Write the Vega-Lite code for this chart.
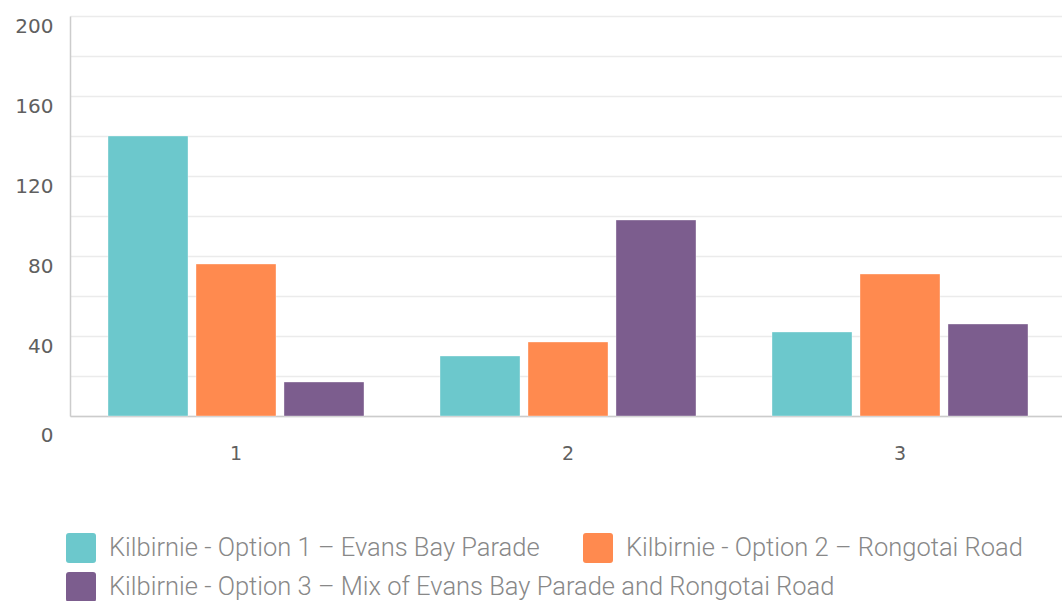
{
  "$schema": "https://vega.github.io/schema/vega-lite/v6.json",
  "width": 992,
  "height": 400,
  "autosize": {"type": "none"},
  "padding": {"left": 70, "top": 16, "right": 0, "bottom": 185},
  "background": "white",
  "data": {
    "values": [
      {"group": "1", "option": "Kilbirnie - Option 1 – Evans Bay Parade", "value": 140},
      {"group": "1", "option": "Kilbirnie - Option 2 – Rongotai Road", "value": 76},
      {"group": "1", "option": "Kilbirnie - Option 3 – Mix of Evans Bay Parade and Rongotai Road", "value": 17},
      {"group": "2", "option": "Kilbirnie - Option 1 – Evans Bay Parade", "value": 30},
      {"group": "2", "option": "Kilbirnie - Option 2 – Rongotai Road", "value": 37},
      {"group": "2", "option": "Kilbirnie - Option 3 – Mix of Evans Bay Parade and Rongotai Road", "value": 98},
      {"group": "3", "option": "Kilbirnie - Option 1 – Evans Bay Parade", "value": 42},
      {"group": "3", "option": "Kilbirnie - Option 2 – Rongotai Road", "value": 71},
      {"group": "3", "option": "Kilbirnie - Option 3 – Mix of Evans Bay Parade and Rongotai Road", "value": 46}
    ]
  },
  "encoding": {
    "x": {
      "field": "group",
      "type": "nominal",
      "scale": {"range": [0, 996], "paddingInner": 0.229, "paddingOuter": 0.1145},
      "axis": {
        "title": null,
        "labelAngle": 0,
        "ticks": false,
        "labelPadding": 28,
        "labelFont": "DejaVu Sans",
        "labelFontSize": 19,
        "labelColor": "#606060",
        "domainColor": "#cccccc",
        "domainWidth": 1.5
      }
    },
    "xOffset": {
      "field": "option",
      "type": "nominal",
      "scale": {
        "domain": [
          "Kilbirnie - Option 1 – Evans Bay Parade",
          "Kilbirnie - Option 2 – Rongotai Road",
          "Kilbirnie - Option 3 – Mix of Evans Bay Parade and Rongotai Road"
        ],
        "paddingInner": 0.0909,
        "paddingOuter": 0
      }
    },
    "y": {
      "field": "value",
      "type": "quantitative",
      "scale": {"domain": [0, 200], "nice": false},
      "axis": {
        "title": null,
        "values": [0, 20, 40, 60, 80, 100, 120, 140, 160, 180, 200],
        "labelExpr": "datum.value % 40 === 0 ? datum.label : ''",
        "ticks": false,
        "labelPadding": 17,
        "labelOffset": {"condition": {"test": "datum.value === 0", "value": 19}, "value": 10},
        "labelFont": "DejaVu Sans",
        "labelFontSize": 20,
        "labelColor": "#606060",
        "domainColor": "#cccccc",
        "domainWidth": 1.5,
        "gridColor": "#ebebeb",
        "gridWidth": 1.5
      }
    }
  },
  "layer": [
    {
      "transform": [{"filter": "datum.option !== 'Kilbirnie - Option 3 – Mix of Evans Bay Parade and Rongotai Road'"}],
      "mark": {"type": "bar", "stroke": "white", "strokeOpacity": 0.35, "strokeWidth": 1},
      "encoding": {
        "fill": {
          "field": "option",
          "type": "nominal",
          "scale": {
            "domain": [
              "Kilbirnie - Option 1 – Evans Bay Parade",
              "Kilbirnie - Option 2 – Rongotai Road"
            ],
            "range": ["#6cc8cc", "#ff8a4f"]
          },
          "legend": {
            "title": null,
            "orient": "none",
            "legendX": -4,
            "legendY": 517,
            "direction": "horizontal",
            "columnPadding": 43,
            "symbolType": "M -0.8 -1 L 0.8 -1 Q 1 -1 1 -0.8 L 1 0.8 Q 1 1 0.8 1 L -0.8 1 Q -1 1 -1 0.8 L -1 -0.8 Q -1 -1 -0.8 -1 Z",
            "symbolSize": 900,
            "symbolStrokeWidth": 0,
            "symbolOpacity": 1,
            "labelFont": "Roboto",
            "labelFontWeight": 300,
            "labelFontSize": 25.5,
            "labelColor": "#888888",
            "labelLimit": 1000,
            "labelOffset": 13
          }
        }
      }
    },
    {
      "transform": [{"filter": "datum.option === 'Kilbirnie - Option 3 – Mix of Evans Bay Parade and Rongotai Road'"}],
      "mark": {"type": "bar", "stroke": "white", "strokeOpacity": 0.35, "strokeWidth": 1},
      "encoding": {
        "color": {
          "field": "option",
          "type": "nominal",
          "scale": {
            "domain": ["Kilbirnie - Option 3 – Mix of Evans Bay Parade and Rongotai Road"],
            "range": ["#7c5d8e"]
          },
          "legend": {
            "title": null,
            "orient": "none",
            "legendX": -4,
            "legendY": 556,
            "direction": "horizontal",
            "symbolType": "M -0.8 -1 L 0.8 -1 Q 1 -1 1 -0.8 L 1 0.8 Q 1 1 0.8 1 L -0.8 1 Q -1 1 -1 0.8 L -1 -0.8 Q -1 -1 -0.8 -1 Z",
            "symbolSize": 900,
            "symbolStrokeWidth": 0,
            "symbolOpacity": 1,
            "labelFont": "Roboto",
            "labelFontWeight": 300,
            "labelFontSize": 25.5,
            "labelColor": "#888888",
            "labelLimit": 1000,
            "labelOffset": 13
          }
        }
      }
    }
  ],
  "config": {"view": {"stroke": null}}
}
